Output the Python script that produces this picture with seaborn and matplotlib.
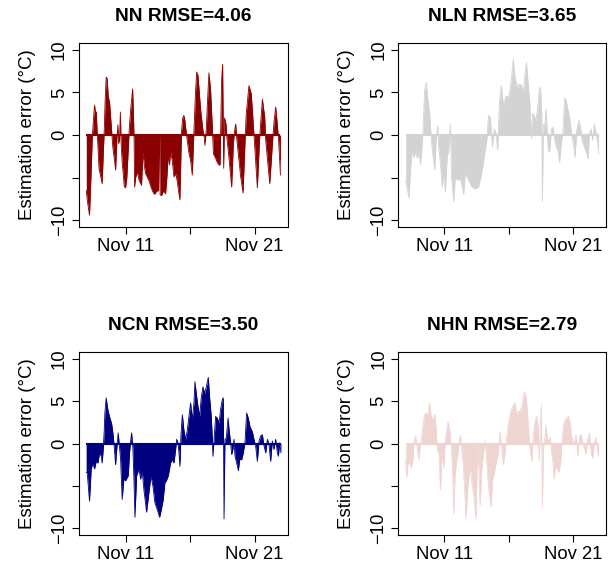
import matplotlib
matplotlib.use('Agg')
import matplotlib.pyplot as plt
import seaborn as sns

# time axis: fractional day of November; values: estimation error (degC)
nn_day = [7.96, 8.05, 8.21, 8.32, 8.42, 8.50, 8.60, 8.66, 8.73, 8.80, 8.86, 8.95, 9.06, 9.19, 9.28,
          9.35, 9.42, 9.50, 9.58, 9.66, 9.76, 9.85, 9.92, 10.02, 10.15, 10.23, 10.33, 10.41, 10.47,
          10.54, 10.60, 10.66, 10.74, 10.82, 10.90, 11.00, 11.10, 11.20, 11.30, 11.40, 11.55, 11.62,
          11.67, 11.70, 11.78, 11.91, 12.05, 12.24, 12.35, 12.45, 12.55, 12.70, 12.81, 12.95, 13.07,
          13.20, 13.28, 13.40, 13.56, 13.60, 13.64, 13.68, 13.79, 13.95, 14.10, 14.20, 14.31, 14.40,
          14.49, 14.62, 14.75, 14.90, 15.01, 15.10, 15.21, 15.28, 15.34, 15.43, 15.52, 15.60, 15.70,
          15.78, 15.90, 16.04, 16.17, 16.26, 16.30, 16.42, 16.51, 16.61, 16.82, 17.00, 17.10, 17.15,
          17.25, 17.35, 17.46, 17.59, 17.72, 17.81, 18.00, 18.10, 18.24, 18.32, 18.39, 18.44, 18.52,
          18.60, 18.67, 18.78, 18.86, 18.97, 19.22, 19.35, 19.45, 19.53, 19.62, 19.92, 20.10, 20.25,
          20.35, 20.56, 20.74, 20.95, 21.21, 21.38, 21.60, 21.78, 21.85, 22.17, 22.40, 22.50, 22.63,
          22.74, 22.85, 23.00]
nn_err = [-6.5, -7.8, -9.4, -5.0, -0.5, 1.5, 3.5, 2.8, 2.7, 0.5, -1.5, -4.0, -4.7, -5.7, -2.0,
          0.5, 4.0, 6.8, 6.6, 4.5, 3.9, 2.0, 0.5, -1.5, -3.0, -4.1, -0.5, 1.2, -1.0,
          -0.5, 2.7, -1.0, -3.2, -4.5, -6.0, -6.2, -5.0, -2.0, 1.0, 3.0, 5.4, 2.0,
          -1.0, -6.1, -5.0, -4.3, -5.3, -5.9, -2.0, -3.5, -4.5, -5.0, -5.3, -6.0, -6.5,
          -6.9, -6.9, -6.6, -6.5, -0.2, -0.2, -7.0, -7.1, -6.5, -6.9, -5.0, -2.2, -3.5,
          -2.0, -3.0, -4.9, -4.5, -5.5, -6.5, -7.6, -3.0, 0.5, 2.0, 2.3, 1.7, 0.3,
          -0.6, -2.0, -3.0, -4.7, -1.0, 0.5, 5.0, 7.4, 7.0, 2.9, 0.5, -0.3, -1.2,
          0.5, 4.0, 7.3, 5.2, 1.0, -2.2, -2.8, -3.2, -3.5, -3.5, 2.0, 6.4, 8.3,
          -3.9, 2.0, 1.3, -0.5, -2.0, -6.1, -1.0, 0.5, 1.3, -0.5, -4.9, -6.8, -1.0,
          2.5, 5.8, 4.8, 0.0, -6.2, -0.5, 4.2, 2.1, -0.5, -5.7, -0.5, 1.5, 3.3,
          1.5, -0.5, -4.7]

nln_day = [7.98, 8.06, 8.24, 8.37, 8.50, 8.63, 8.76, 8.89, 9.01, 9.14, 9.27, 9.33, 9.45, 9.58, 9.71,
           9.87, 9.97, 10.12, 10.25, 10.33, 10.48, 10.55, 10.69, 10.82, 10.95, 11.08, 11.21, 11.33,
           11.46, 11.55, 11.72, 11.85, 12.03, 12.24, 12.50, 12.62, 12.88, 13.14, 13.40, 13.66, 13.78,
           13.99, 14.17, 14.30, 14.43, 14.56, 14.74, 14.87, 15.00, 15.15, 15.28, 15.43, 15.59, 15.80,
           15.98, 16.10, 16.23, 16.36, 16.49, 16.67, 16.83, 17.01, 17.14, 17.27, 17.39, 17.52, 17.65,
           17.78, 17.86, 17.99, 18.12, 18.24, 18.37, 18.48, 18.58, 18.63, 18.71, 18.81, 18.91, 18.99,
           19.07, 19.20, 19.33, 19.46, 19.59, 19.71, 19.84, 19.97, 20.10, 20.23, 20.36, 20.49, 20.62,
           20.75, 20.87, 21.00, 21.18, 21.31, 21.47, 21.60, 21.72, 21.90, 22.09, 22.19, 22.29, 22.42,
           22.55, 22.68, 22.81, 22.94, 23.01]
nln_err = [-5.3, -6.0, -7.4, -3.7, -1.8, -2.6, -2.0, -2.7, -2.2, -3.4, -1.0, 0.5, 5.2, 6.2, 4.1,
           2.1, -0.5, -2.6, -4.1, -1.0, 1.1, -1.5, -3.4, -6.1, -4.7, -6.7, -2.6, -1.8,
           1.3, -4.9, -7.8, -4.9, -5.3, -5.1, -6.9, -4.5, -5.3, -6.1, -6.3, -6.1, -5.3,
           -3.7, -1.8, -0.6, 2.3, 2.1, -1.4, 0.7, 0.3, -1.8, 3.9, 5.8, 3.5, 4.6,
           4.4, 5.2, 6.8, 8.9, 6.8, 5.6, 6.0, 5.8, 4.8, 7.2, 8.5, 6.0, 3.7,
           -0.4, 2.5, 2.3, 1.7, 2.9, 5.2, 5.6, 2.5, -7.8, 1.3, 0.9, 3.1, 0.9,
           -1.8, -2.0, 0.7, 0.9, -0.6, -1.4, -1.8, -3.2, -1.0, 0.2, 4.4, 4.0, 2.9,
           2.1, 0.4, -0.6, -2.6, 0.7, 1.7, 0.9, -0.6, -1.4, -2.2, -2.8, 0.2, 0.7,
           -0.6, 1.3, 0.2, -1.0, -2.2]

ncn_day = [7.95, 8.03, 8.21, 8.34, 8.47, 8.60, 8.73, 8.86, 8.99, 9.12, 9.19, 9.27, 9.35, 9.40, 9.50,
           9.63, 9.79, 9.92, 10.05, 10.12, 10.23, 10.33, 10.43, 10.54, 10.62, 10.74, 10.87, 11.00,
           11.21, 11.31, 11.39, 11.47, 11.57, 11.65, 11.73, 11.86, 12.04, 12.17, 12.29, 12.42, 12.63,
           12.81, 12.97, 13.12, 13.28, 13.46, 13.64, 13.77, 13.92, 14.05, 14.16, 14.31, 14.49, 14.62,
           14.75, 14.88, 14.96, 15.06, 15.14, 15.21, 15.29, 15.40, 15.52, 15.65, 15.78, 15.91, 16.04,
           16.17, 16.30, 16.38, 16.48, 16.61, 16.74, 16.87, 17.00, 17.13, 17.26, 17.41, 17.51, 17.64,
           17.72, 17.77, 17.85, 17.98, 18.11, 18.24, 18.37, 18.50, 18.57, 18.63, 18.70, 18.81, 18.94,
           19.01, 19.14, 19.22, 19.32, 19.40, 19.48, 19.61, 19.74, 19.84, 20.00, 20.12, 20.25, 20.38,
           20.51, 20.64, 20.82, 20.95, 21.08, 21.21, 21.34, 21.47, 21.60, 21.73, 21.86, 21.99, 22.11,
           22.24, 22.37, 22.50, 22.63, 22.76, 22.84, 22.94, 23.04]
ncn_err = [-3.4, -3.4, -6.8, -3.0, -2.3, -3.0, -2.1, -2.3, -1.1, -1.5, -2.3, -0.7, 1.5, 3.6, 5.4,
           4.0, 3.0, 2.4, 0.9, -0.3, -2.5, -0.5, 1.25, -0.5, -1.9, -6.6, -4.2, -4.4,
           -3.8, -1.1, 0.2, 1.25, -0.5, -4.2, -8.7, -3.8, -3.0, -4.2, -3.2, -5.4, -8.1,
           -5.8, -3.8, -5.0, -7.0, -7.8, -8.7, -7.8, -6.6, -4.6, -4.4, -3.8, -2.3, -1.9,
           -2.3, -0.7, 0.5, 0.1, -1.1, -2.7, 0.9, 3.4, 1.6, 0.5, 1.5, 3.2, 4.8,
           2.8, 4.8, 7.3, 5.9, 4.4, 3.2, 5.5, 6.7, 5.9, 6.7, 7.8, 5.5, 3.2,
           0.7, -1.5, 0.3, 3.2, 3.0, 2.4, 4.1, 5.2, 5.4, -8.9, 0.5, 0.7, 3.0,
           1.8, 0.1, -1.3, -0.7, 0.5, -1.5, -2.3, -3.2, -1.9, -1.9, -1.1, 0.1, 3.6,
           3.0, 2.0, 1.4, 0.5, -0.3, -2.1, 0.3, 0.9, 1.05, -0.3, -1.1, 0.5, -0.1,
           -2.1, 0.3, -0.7, 0.5, -1.1, -1.5, 0.1, -1.1]

nhn_day = [7.98, 8.06, 8.16, 8.29, 8.42, 8.55, 8.63, 8.76, 8.89, 9.01, 9.09, 9.20, 9.32, 9.45, 9.58,
           9.71, 9.84, 9.97, 10.10, 10.25, 10.36, 10.43, 10.56, 10.69, 10.82, 10.95, 11.03, 11.13,
           11.28, 11.41, 11.52, 11.62, 11.72, 11.82, 11.93, 12.06, 12.16, 12.24, 12.34, 12.49, 12.68,
           12.83, 13.01, 13.14, 13.27, 13.47, 13.55, 13.60, 13.68, 13.78, 13.91, 14.04, 14.17, 14.25,
           14.38, 14.51, 14.63, 14.76, 14.89, 15.07, 15.20, 15.33, 15.46, 15.59, 15.72, 15.80, 15.98,
           16.16, 16.31, 16.49, 16.62, 16.75, 16.88, 17.01, 17.14, 17.24, 17.34, 17.45, 17.55, 17.65,
           17.73, 17.81, 17.91, 18.04, 18.17, 18.30, 18.37, 18.48, 18.55, 18.63, 18.71, 18.81, 18.91,
           19.02, 19.15, 19.25, 19.35, 19.46, 19.53, 19.66, 19.79, 19.92, 20.05, 20.15, 20.28, 20.41,
           20.54, 20.67, 20.80, 20.90, 21.00, 21.13, 21.26, 21.39, 21.52, 21.65, 21.78, 21.90, 22.03,
           22.16, 22.29, 22.42, 22.55, 22.68, 22.81, 22.94, 23.01]
nhn_err = [-2.0, -4.0, -2.3, -2.3, -2.9, -1.9, 0.3, 0.9, -0.7, -1.9, -0.7, 0.5, 2.0, 3.4, 3.6,
           3.4, 4.8, 3.2, 2.8, 3.4, 1.6, -0.7, -1.1, -5.4, -1.1, -2.9, -0.5, 1.2,
           2.6, 1.6, -0.3, -2.5, -8.3, -4.0, -2.3, -1.1, 0.3, 1.05, -0.5, -3.0, -8.9,
           -5.0, -2.7, -4.6, -6.1, -8.9, -2.0, 0.1, -3.0, -7.3, -3.0, -1.1, 0.3, -1.1,
           -4.2, -6.1, -7.5, -4.2, -3.4, -1.9, -1.1, 1.4, -0.5, -2.5, -1.1, 0.1, 2.4,
           3.8, 4.4, 4.8, 3.4, 3.8, 3.8, 4.2, 5.5, 6.1, 5.7, 4.0, 1.6, -0.7,
           -1.3, -2.1, 0.9, 2.4, 3.2, 2.0, -2.1, 2.4, 4.6, -7.5, -0.7, 0.5, 2.2,
           0.5, 0.3, 0.7, -1.1, -2.3, -4.2, -2.7, -3.0, -3.4, -2.3, 0.1, 2.2, 2.8,
           3.0, 3.2, 2.2, 0.9, 0.1, 0.3, 1.05, -1.5, 0.9, 1.05, 0.1, -0.5, -1.3,
           0.5, 1.25, -1.1, -1.7, 0.1, 0.7, -1.1, -1.5]

titles = ['NN RMSE=4.06', 'NLN RMSE=3.65', 'NCN RMSE=3.50', 'NHN RMSE=2.79']
colors = ['#8B0000', '#D3D3D3', '#000080', '#EED5D2']
x_ticks = [11, 16, 21]
x_tick_labels = ['Nov 11', '', 'Nov 21']
y_ticks = [-10, -5, 0, 5, 10]
y_tick_labels = ['\u221210', '', '0', '5', '10']

sns.set_theme(style='ticks')
plt.rcParams['font.family'] = ['Liberation Sans', 'DejaVu Sans']
plt.rcParams['text.color'] = 'black'
plt.rcParams['axes.labelcolor'] = 'black'

fig = plt.figure(figsize=(6.08, 5.65), dpi=100)
# axes boxes in figure fractions (left, bottom, width, height)
boxes = [(0.130, 0.598, 0.344, 0.326), (0.655, 0.598, 0.342, 0.326),
         (0.130, 0.053, 0.344, 0.324), (0.655, 0.053, 0.342, 0.324)]
series = [(nn_day, nn_err), (nln_day, nln_err), (ncn_day, ncn_err), (nhn_day, nhn_err)]

for box, (day, err), title, col in zip(boxes, series, titles, colors):
    ax = fig.add_axes(box)
    ax.fill_between(day, 0, err, color=col, linewidth=0)
    sns.lineplot(x=day, y=err, color=col, linewidth=0.6, estimator=None, sort=False, ax=ax)
    ax.hlines(0, day[0], day[-1], color=col, linewidth=1.5)

    ax.set_xlim(7.4, 23.6)
    ax.set_ylim(-10.8, 10.8)
    ax.set_xticks(x_ticks)
    ax.set_xticklabels(x_tick_labels)
    ax.set_yticks(y_ticks)
    ax.set_yticklabels(y_tick_labels, rotation=90, va='center')
    ax.set_xlabel('')
    ax.set_ylabel('Estimation error (\u00b0C)', fontsize=13.5, labelpad=11, color='black')
    ax.set_title(title, fontweight='bold', fontsize=13.8, pad=16, color='black')

    for s in ax.spines.values():
        s.set_color('black')
        s.set_linewidth(0.8)
    ax.tick_params(direction='out', length=5, width=0.8, colors='black', labelsize=13.3, pad=3)

fig.savefig('out.png', dpi=100)
